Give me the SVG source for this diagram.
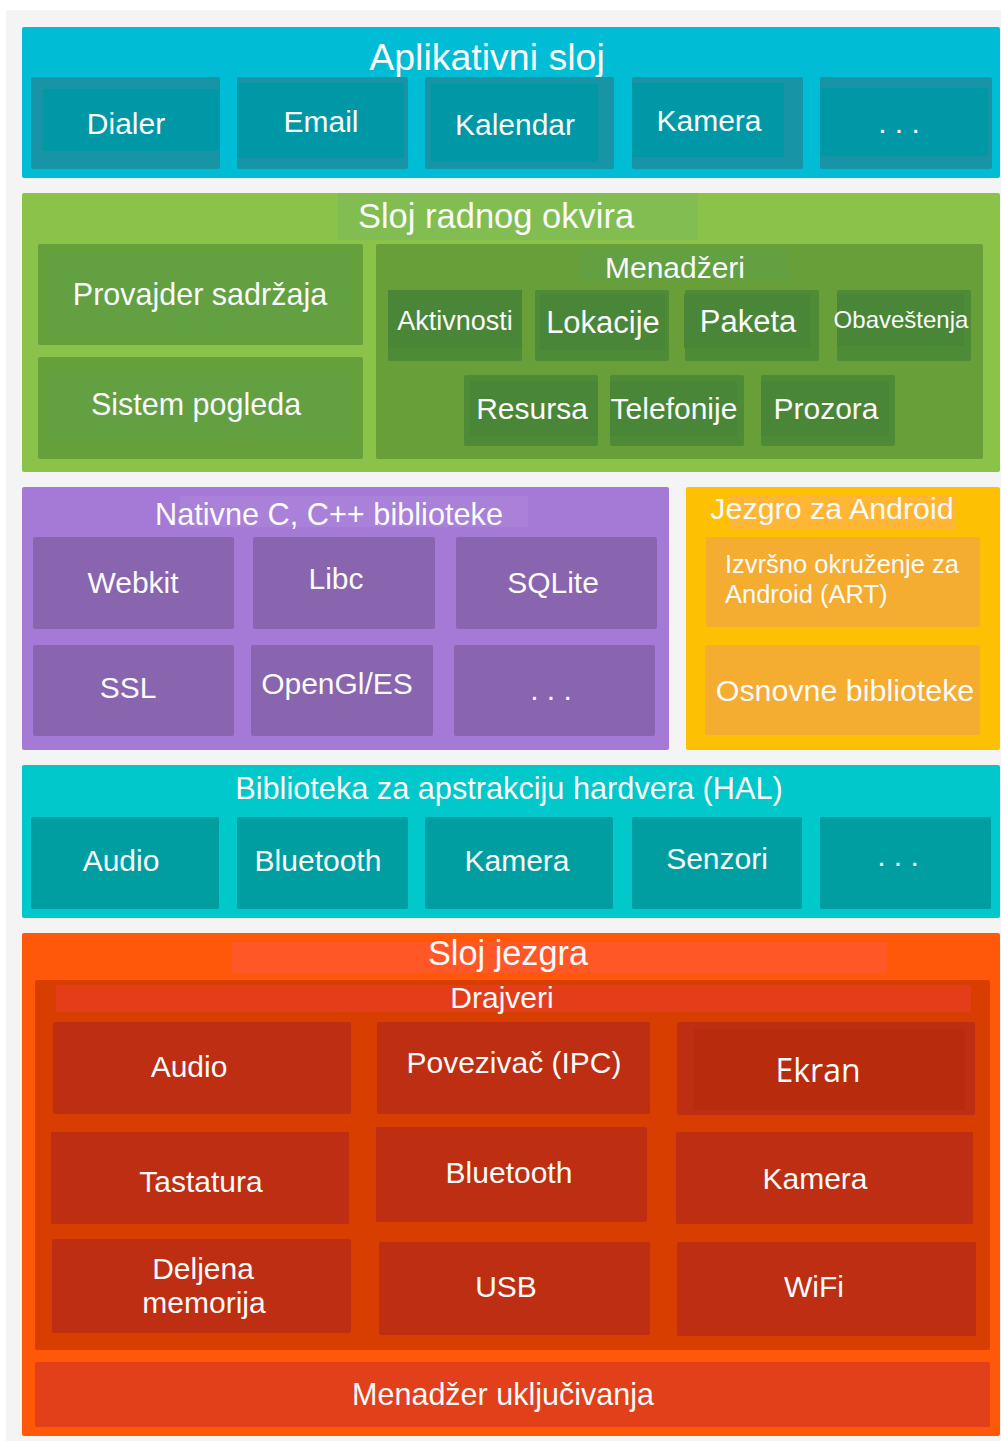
<svg xmlns="http://www.w3.org/2000/svg" width="1001" height="1441" viewBox="0 0 1001 1441">
<style>
text{font-family:"Liberation Sans",Arial,sans-serif;fill:#fafafa;text-anchor:middle}
.t30{font-size:30px}
.t31{font-size:31px}
.app{fill:#00bcd4}.appb{fill:#1795a7}.appi{fill:#0097a7}
.fw{fill:#8bc34a}.fwh{fill:#82bd52}.fwb{fill:#65a03b}.fwi{fill:#63a042}.mgr{fill:#689f38}.mgrb{fill:#4e8b36}.mgri{fill:#4a8638}
.nat{fill:#a57ad6}.nath{fill:#a981d9}.natb{fill:#8865ae}
.art{fill:#fec003}.arth{fill:#ffb634}.artb{fill:#f4ac31}
.hal{fill:#00c8cb}.halb{fill:#009ea1}
.ker{fill:#ff5809}.kerh{fill:#ff5726}.drv{fill:#d83e00}.drvh{fill:#e33e19}.drvb{fill:#bd2e12}.pwr{fill:#e1401a}
</style>
<rect x="0" y="0" width="1001" height="1441" fill="#ffffff"/>
<rect x="6" y="10" width="995" height="1431" fill="#f4f4f4"/>

<g id="layer-app">
<rect class="app" x="22" y="27" width="978" height="151" rx="2"/>
<text x="487" y="70" style="font-size:37.5px">Aplikativni sloj</text>
</g>
<g id="app-dialer"><rect class="appb" x="31" y="77" width="189" height="92" rx="2"/><rect class="appi" x="43" y="89" width="177" height="62"/><text class="t30" x="126" y="134">Dialer</text></g>
<g id="app-email"><rect class="appb" x="237" y="77" width="171" height="92" rx="2"/><rect class="appi" x="237" y="83" width="167" height="75"/><text class="t30" x="321" y="132">Email</text></g>
<g id="app-kalendar"><rect class="appb" x="425" y="77" width="189" height="92" rx="2"/><rect class="appi" x="431" y="84" width="167" height="78"/><text class="t30" x="515" y="135">Kalendar</text></g>
<g id="app-kamera"><rect class="appb" x="632" y="77" width="171" height="92" rx="2"/><rect class="appi" x="632" y="83" width="152" height="74"/><text class="t30" x="709" y="131">Kamera</text></g>
<g id="app-more"><rect class="appb" x="820" y="77" width="172" height="92" rx="2"/><rect class="appi" x="820" y="88" width="168" height="68"/><text class="t30" x="899" y="133">. . .</text></g>

<g id="layer-framework">
<rect class="fw" x="22" y="193" width="978" height="279" rx="2"/>
<rect class="fwh" x="338" y="193" width="360" height="47"/>
<text x="496" y="228" style="font-size:34.5px">Sloj radnog okvira</text>
</g>
<g id="fw-provajder"><rect class="fwb" x="38" y="244" width="325" height="101" rx="2"/><rect class="fwi" x="48" y="251" width="304" height="87"/><text x="200" y="305" style="font-size:30.5px">Provajder sadržaja</text></g>
<g id="fw-sistem"><rect class="fwb" x="38" y="357" width="325" height="102" rx="2"/><rect class="fwi" x="48" y="369" width="304" height="73"/><text x="196" y="415" style="font-size:30.5px">Sistem pogleda</text></g>
<g id="fw-menadzeri">
<rect class="mgr" x="376" y="244" width="607" height="215" rx="2"/>
<rect class="fwi" x="580" y="250" width="207" height="30"/>
<text x="675" y="278" style="font-size:30px">Menadžeri</text>
</g>
<g id="mgr-aktivnosti"><rect class="mgrb" x="388" y="290" width="134" height="71" rx="2"/><rect class="mgri" x="388" y="290" width="134" height="58"/><text x="455" y="330" style="font-size:27px">Aktivnosti</text></g>
<g id="mgr-lokacije"><rect class="mgrb" x="535" y="290" width="134" height="71" rx="2"/><rect class="mgri" x="540" y="294" width="125" height="56"/><text class="t31" x="603" y="333">Lokacije</text></g>
<g id="mgr-paketa"><rect class="mgrb" x="685" y="290" width="134" height="71" rx="2"/><rect class="mgri" x="684" y="294" width="126" height="54"/><text class="t31" x="748" y="332">Paketa</text></g>
<g id="mgr-obavestenja"><rect class="mgrb" x="837" y="290" width="134" height="71" rx="2"/><rect class="mgri" x="837" y="294" width="127" height="52"/><text x="901" y="328" style="font-size:24px">Obaveštenja</text></g>
<g id="mgr-resursa"><rect class="mgrb" x="464" y="375" width="134" height="71" rx="2"/><rect class="mgri" x="470" y="381" width="128" height="55"/><text class="t30" x="532" y="419">Resursa</text></g>
<g id="mgr-telefonije"><rect class="mgrb" x="610" y="375" width="134" height="71" rx="2"/><rect class="mgri" x="610" y="381" width="127" height="55"/><text class="t30" x="674" y="419">Telefonije</text></g>
<g id="mgr-prozora"><rect class="mgrb" x="761" y="375" width="134" height="71" rx="2"/><rect class="mgri" x="761" y="381" width="128" height="55"/><text class="t30" x="826" y="419">Prozora</text></g>

<g id="layer-native">
<rect class="nat" x="22" y="487" width="647" height="263" rx="2"/>
<rect class="nath" x="180" y="496" width="348" height="31"/>
<text x="329" y="525" style="font-size:30.7px">Nativne C, C++ biblioteke</text>
</g>
<g id="nat-webkit"><rect class="natb" x="33" y="537" width="201" height="92" rx="2"/><text class="t30" x="133" y="593">Webkit</text></g>
<g id="nat-libc"><rect class="natb" x="253" y="537" width="182" height="92" rx="2"/><text class="t30" x="336" y="589">Libc</text></g>
<g id="nat-sqlite"><rect class="natb" x="456" y="537" width="201" height="92" rx="2"/><text class="t30" x="553" y="593">SQLite</text></g>
<g id="nat-ssl"><rect class="natb" x="33" y="645" width="201" height="91" rx="2"/><text class="t30" x="128" y="698">SSL</text></g>
<g id="nat-opengl"><rect class="natb" x="251" y="645" width="182" height="91" rx="2"/><text class="t30" x="337" y="694">OpenGl/ES</text></g>
<g id="nat-more"><rect class="natb" x="454" y="645" width="201" height="91" rx="2"/><text class="t30" x="551" y="700">. . .</text></g>

<g id="layer-android-runtime">
<rect class="art" x="686" y="487" width="314" height="263" rx="2"/>
<rect class="arth" x="729" y="496" width="226" height="33"/>
<text x="832" y="519" style="font-size:30.4px">Jezgro za Android</text>
</g>
<g id="art-runtime"><rect class="artb" x="706" y="537" width="274" height="90" rx="2"/><text x="725" y="573" style="font-size:25.5px;text-anchor:start">Izvršno okruženje za</text><text x="725" y="603" style="font-size:25.5px;text-anchor:start">Android (ART)</text></g>
<g id="art-core"><rect class="artb" x="705" y="645" width="275" height="90" rx="2"/><text x="845" y="701" style="font-size:30.4px">Osnovne biblioteke</text></g>

<g id="layer-hal">
<rect class="hal" x="22" y="765" width="978" height="153" rx="2"/>
<text x="509" y="799" style="font-size:30.7px">Biblioteka za apstrakciju hardvera (HAL)</text>
</g>
<g id="hal-audio"><rect class="halb" x="31" y="817" width="188" height="92" rx="2"/><text class="t30" x="121" y="871">Audio</text></g>
<g id="hal-bluetooth"><rect class="halb" x="237" y="817" width="171" height="92" rx="2"/><text class="t30" x="318" y="871">Bluetooth</text></g>
<g id="hal-kamera"><rect class="halb" x="425" y="817" width="188" height="92" rx="2"/><text class="t30" x="517" y="871">Kamera</text></g>
<g id="hal-senzori"><rect class="halb" x="632" y="817" width="170" height="92" rx="2"/><text class="t30" x="717" y="869">Senzori</text></g>
<g id="hal-more"><rect class="halb" x="820" y="817" width="171" height="92" rx="2"/><text class="t30" x="898" y="866">. . .</text></g>

<g id="layer-kernel">
<rect class="ker" x="22" y="933" width="978" height="503" rx="2"/>
<rect class="kerh" x="232" y="942" width="655" height="31"/>
<text x="508" y="965" style="font-size:34.3px">Sloj jezgra</text>
</g>
<g id="kernel-drivers">
<rect class="drv" x="35" y="980" width="955" height="370" rx="2"/>
<rect class="drvh" x="56" y="985" width="915" height="27"/>
<text x="502" y="1008" style="font-size:30px">Drajveri</text>
</g>
<g id="drv-audio"><rect class="drvb" x="53" y="1022" width="298" height="92" rx="2"/><text class="t30" x="189" y="1077">Audio</text></g>
<g id="drv-ipc"><rect class="drvb" x="377" y="1022" width="273" height="92" rx="2"/><text class="t30" x="514" y="1073">Povezivač (IPC)</text></g>
<g id="drv-ekran"><rect class="drvb" x="677" y="1022" width="298" height="93" rx="2"/><rect x="694" y="1029" width="271" height="81" fill="#b82c0d"/><text x="818" y="1082" style="font-family:'Open Sans','DejaVu Sans',sans-serif;font-size:32px">Ekran</text></g>
<g id="drv-tastatura"><rect class="drvb" x="51" y="1132" width="298" height="92" rx="2"/><text class="t30" x="201" y="1192">Tastatura</text></g>
<g id="drv-bluetooth"><rect class="drvb" x="376" y="1127" width="271" height="95" rx="2"/><text class="t30" x="509" y="1183">Bluetooth</text></g>
<g id="drv-kamera"><rect class="drvb" x="676" y="1132" width="297" height="92" rx="2"/><text class="t30" x="815" y="1189">Kamera</text></g>
<g id="drv-memorija"><rect class="drvb" x="52" y="1239" width="299" height="94" rx="2"/><text class="t30" x="203" y="1279">Deljena</text><text class="t30" x="204" y="1313">memorija</text></g>
<g id="drv-usb"><rect class="drvb" x="379" y="1242" width="271" height="93" rx="2"/><text class="t30" x="506" y="1297">USB</text></g>
<g id="drv-wifi"><rect class="drvb" x="677" y="1242" width="299" height="94" rx="2"/><text class="t30" x="814" y="1297">WiFi</text></g>
<g id="kernel-power"><rect class="pwr" x="35" y="1362" width="955" height="65" rx="2"/><text x="503" y="1405" style="font-size:30.5px">Menadžer uključivanja</text></g>
<g id="connectors"/>
</svg>
